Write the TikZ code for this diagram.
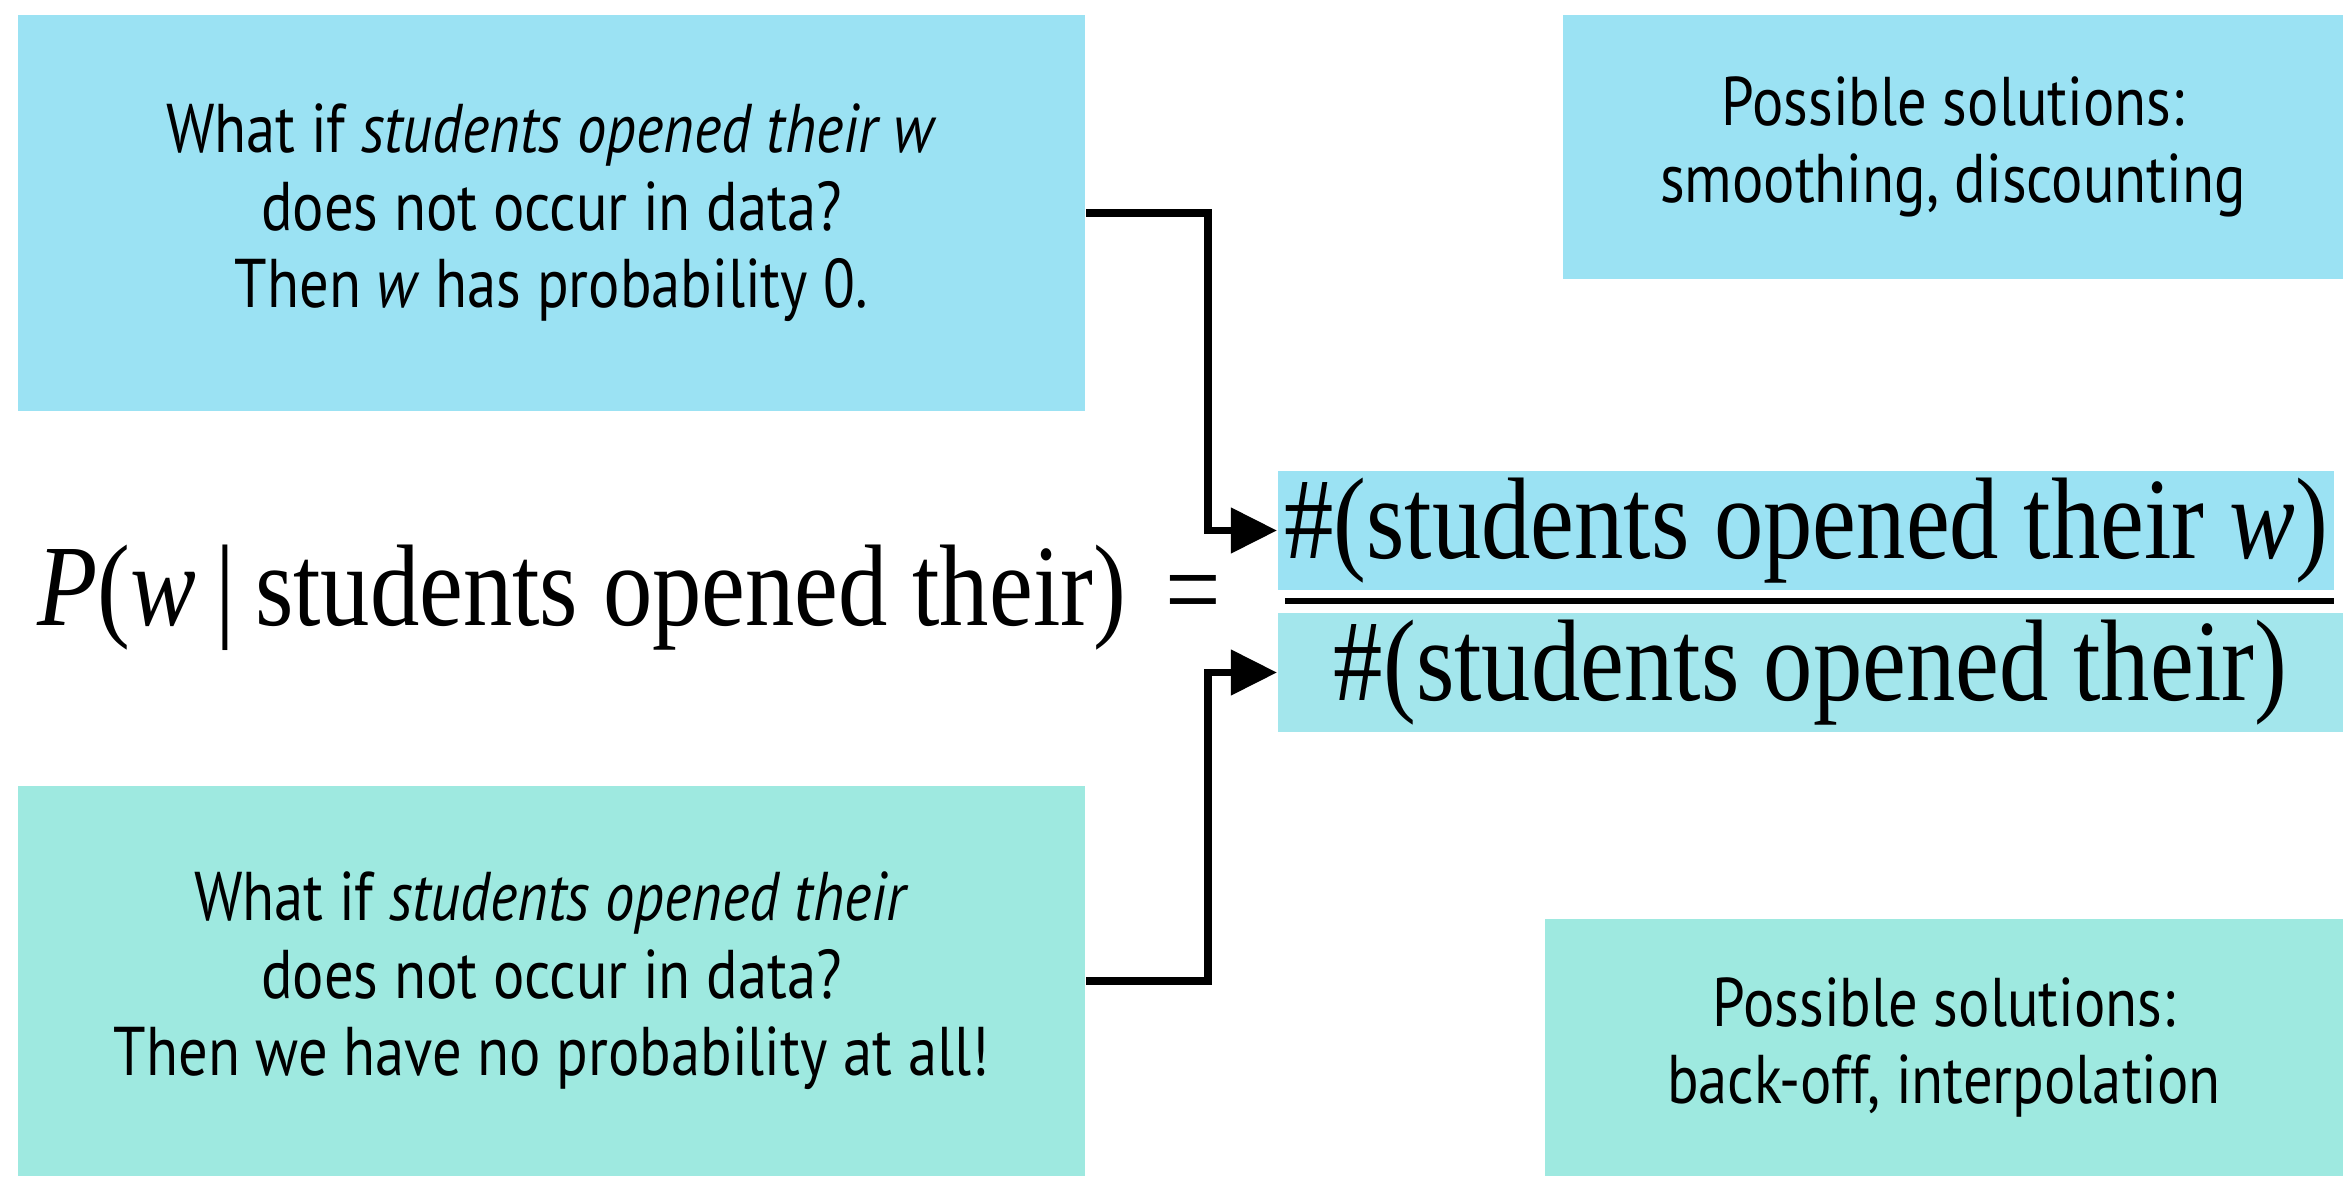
\documentclass[tikz,border=0pt]{standalone}
\usepackage{fontspec}
\usetikzlibrary{arrows.meta}
\newfontfamily\boxfont{PT Sans}[FakeStretch=0.85]
\newfontfamily\formfont{Liberation Serif}[FakeStretch=0.85]
\definecolor{qblue}{RGB}{155,226,243}
\definecolor{qteal}{RGB}{158,233,224}
\definecolor{denc}{RGB}{163,230,236}
\tikzset{
  box/.style={fill=#1, inner sep=0pt, align=center, font=\boxfont\fontsize{19.6}{22}\selectfont},
  fbox/.style={fill=#1, inner sep=0pt, font=\formfont\fontsize{33}{36}\selectfont},
  conn/.style={line width=0.075cm, -{Triangle[length=0.46cm,width=0.44cm]}},
}
\begin{document}
\begin{tikzpicture}[x=0.01cm,y=-0.01cm]
\useasboundingbox (0,0) rectangle (2343,1176);
\node[box=qblue, minimum width=10.67cm, minimum height=3.96cm] (q1) at (551.5,213)
  {What if \textit{students opened their w}\\ does not occur in data?\\ Then \textit{w} has probability 0.};
\node[box=qblue, minimum width=7.80cm, minimum height=2.64cm] (s1) at (1953,147)
  {Possible solutions:\\ smoothing, discounting};
\node[box=qteal, minimum width=10.67cm, minimum height=3.90cm] (q2) at (551.5,981)
  {What if \textit{students opened their}\\ does not occur in data?\\ Then we have no probability at all!};
\node[box=qteal, minimum width=7.98cm, minimum height=2.57cm] (s2) at (1944,1047.5)
  {Possible solutions:\\ back-off, interpolation};
\node[fbox=qblue, minimum width=10.56cm, minimum height=1.19cm] (num) at (1806,530.5)
  {\#(students opened their \textit{w})};
\node[fbox=denc, minimum width=10.65cm, minimum height=1.19cm] (den) at (1810.5,672.5)
  {\#(students opened their)};
\node[font=\formfont\fontsize{33}{36}\selectfont, anchor=base west, inner sep=0pt] (lhs) at (37,625)
  {\textit{P}(\textit{w}\,|\,students opened their)};
\node[font=\formfont\fontsize{33}{36}\selectfont, inner sep=0pt] (eq) at (1193,602) {=};
\draw[line width=0.065cm] (1285,601) -- (2334,601);
\draw[conn] (q1.east) -- ++(122,0) |- (num.west);
\draw[conn] (q2.east) -- ++(122,0) |- (den.west);
\end{tikzpicture}
\end{document}
